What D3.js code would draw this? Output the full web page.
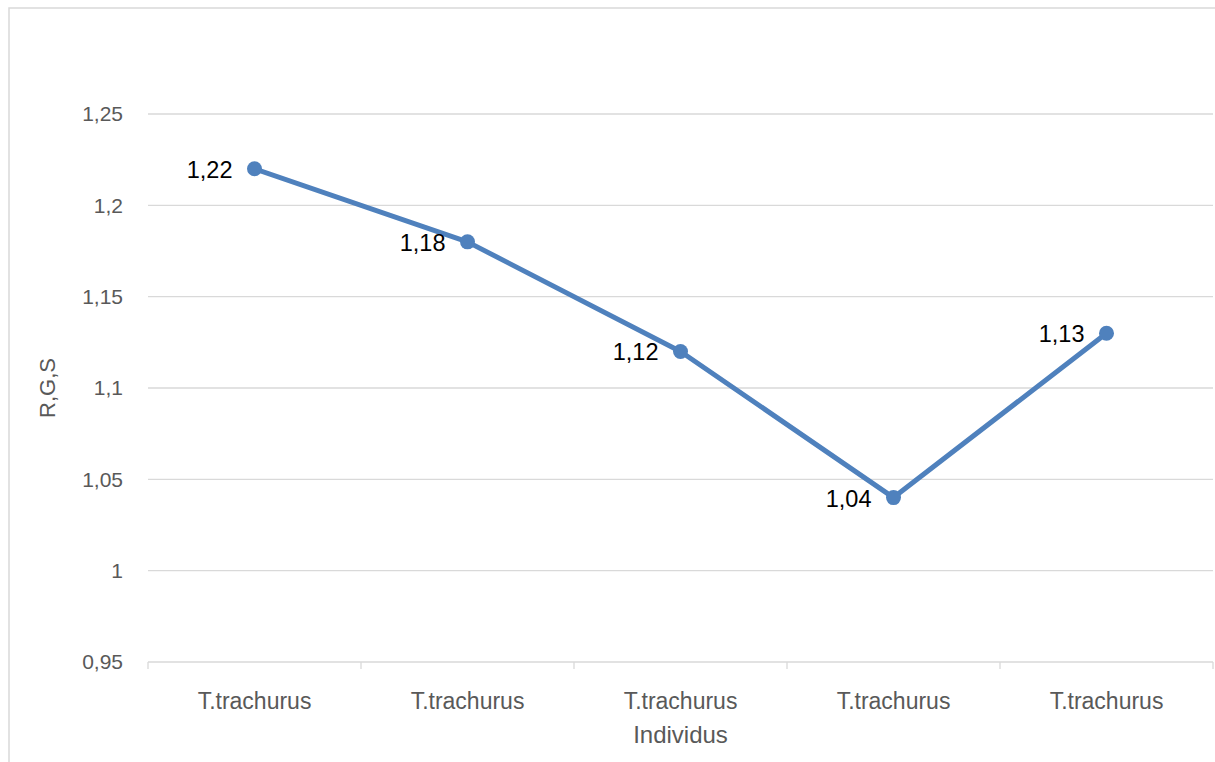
<!DOCTYPE html>
<html>
<head>
<meta charset="utf-8">
<script src="https://cdn.jsdelivr.net/npm/d3@7"></script>
<style>
  html, body { margin: 0; padding: 0; background: #fff; }
  svg { display: block; font-family: "Liberation Sans", Arial, sans-serif; }
</style>
</head>
<body>
<svg id="chart" width="1215" height="762"></svg>
<script>
const categories = ["T.trachurus", "T.trachurus", "T.trachurus", "T.trachurus", "T.trachurus"];
const values = [1.22, 1.18, 1.12, 1.04, 1.13];
const yTicks = [0.95, 1, 1.05, 1.1, 1.15, 1.2, 1.25];
const xTitle = "Individus";
const yTitle = "R,G,S";

const fmt = v => String(+v.toFixed(2)).replace(".", ",");

const svg = d3.select("#chart");
const W = 1215, H = 762;
const pLeft = 148, pRight = 1213, pTop = 114, pBottom = 662;

// outer chart border
svg.append("rect").attr("x", 9).attr("y", 8).attr("width", W + 10).attr("height", H + 10)
  .attr("fill", "none").attr("stroke", "#d9d9d9").attr("stroke-width", 1.5);

const idx = categories.map((c, i) => i);
const x = d3.scaleBand().domain(idx).range([pLeft, pRight]).paddingInner(0).paddingOuter(0);
const y = d3.scaleLinear().domain([0.95, 1.25]).range([pBottom, pTop]);

// gridlines
svg.append("g").selectAll("line").data(yTicks.filter(t => t !== 0.95)).join("line")
  .attr("x1", pLeft).attr("x2", pRight)
  .attr("y1", d => y(d)).attr("y2", d => y(d))
  .attr("stroke", "#d9d9d9").attr("stroke-width", 1.3);

// y axis labels
const yAxis = d3.axisLeft(y).tickValues(yTicks).tickSize(0).tickPadding(25).tickFormat(fmt);
const gy = svg.append("g").attr("transform", `translate(${pLeft},0)`).call(yAxis);
gy.select(".domain").remove();
gy.selectAll("text").attr("fill", "#595959").style("font-size", "21px")
  .style("font-family", "Liberation Sans, Arial, sans-serif");

// x axis
const xAxis = d3.axisBottom(x).tickSize(0).tickPadding(0).tickFormat(i => categories[i]);
const gx = svg.append("g").attr("transform", `translate(0,${pBottom})`).call(xAxis);
gx.select(".domain").attr("stroke", "#d9d9d9").attr("stroke-width", 1.3).attr("d", `M${pLeft},0H${pRight}`);
gx.selectAll("text").attr("fill", "#595959").style("font-size", "23px")
  .style("font-family", "Liberation Sans, Arial, sans-serif")
  .attr("dy", null).attr("y", 47);
// boundary tick marks
const bounds = idx.map(i => x(i)).concat([x(idx[idx.length - 1]) + x.bandwidth()]);
svg.append("g").selectAll("line").data(bounds).join("line")
  .attr("x1", d => d).attr("x2", d => d)
  .attr("y1", pBottom).attr("y2", pBottom + 7)
  .attr("stroke", "#d9d9d9").attr("stroke-width", 1.3);

// line
const cx = i => x(i) + x.bandwidth() / 2;
const line = d3.line().x((d, i) => cx(i)).y(d => y(d));
svg.append("path").datum(values).attr("d", line)
  .attr("fill", "none").attr("stroke", "#4f81bd").attr("stroke-width", 5)
  .attr("stroke-linejoin", "round").attr("stroke-linecap", "round");

svg.append("g").selectAll("circle").data(values).join("circle")
  .attr("cx", (d, i) => cx(i)).attr("cy", d => y(d)).attr("r", 7.5)
  .attr("fill", "#4f81bd");

// data labels
svg.append("g").selectAll("text").data(values).join("text")
  .attr("x", (d, i) => cx(i) - 22).attr("y", d => y(d) + 1)
  .attr("text-anchor", "end").attr("dominant-baseline", "central")
  .attr("fill", "#000").style("font-size", "23.5px")
  .text(d => fmt(d));

// axis titles
svg.append("text").attr("x", (pLeft + pRight) / 2).attr("y", 743)
  .attr("text-anchor", "middle").attr("fill", "#595959").style("font-size", "24px")
  .text(xTitle);
svg.append("text")
  .attr("transform", `translate(55,${(pTop + pBottom) / 2}) rotate(-90)`)
  .attr("text-anchor", "middle").attr("fill", "#595959").style("font-size", "22px")
  .text(yTitle);
</script>
</body>
</html>
